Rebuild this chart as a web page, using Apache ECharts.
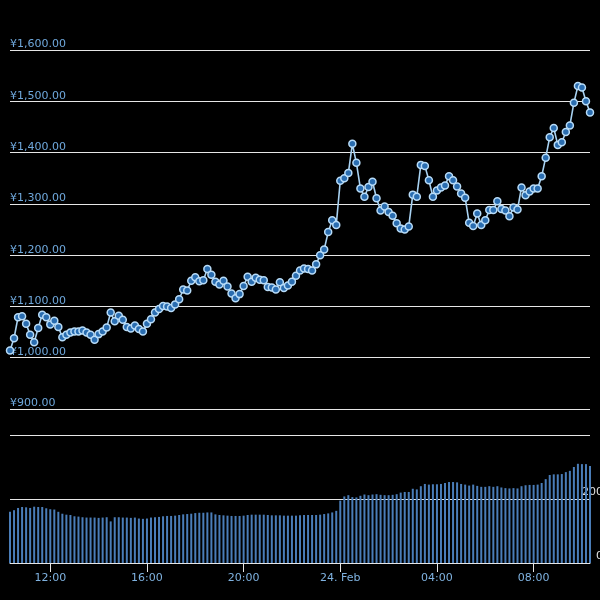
<!DOCTYPE html>
<html><head><meta charset="utf-8">
<script src="https://cdn.jsdelivr.net/npm/echarts@6/dist/echarts.min.js"></script>
<style>html,body{margin:0;padding:0;background:#000;}#c{width:600px;height:600px;}</style>
</head><body><div id="c"></div>
<script>
// 10-minute steps from 23 Feb 10:20 to 24 Feb 10:20
var times = [];
(function(){ var m = 10*60+20; for (var k = 0; k < 145; k++) { var t = (m + k*10) % 1440; var h = Math.floor(t/60), mm = t%60; times.push((h<10?'0':'')+h+':'+(mm<10?'0':'')+mm); } })();
var tickLabels = ['12:00','16:00','20:00','00:00','04:00','08:00'];
var priceTicks = [900,1000,1100,1200,1300,1400,1500,1600];
var prices = [1014,1038,1079,1081,1066,1045,1030,1058,1084,1079,
1065,1072,1060,1040,1045,1049,1051,1051,1053,1049,
1045,1035,1046,1051,1059,1088,1071,1082,1074,1060,
1057,1063,1056,1051,1066,1075,1088,1095,1101,1100,
1097,1104,1114,1133,1131,1150,1157,1149,1151,1173,
1162,1148,1143,1150,1139,1125,1116,1124,1140,1158,
1148,1156,1152,1151,1138,1137,1133,1147,1136,1141,
1148,1160,1170,1174,1173,1170,1182,1200,1211,1245,
1268,1259,1345,1350,1360,1417,1380,1330,1314,1333,
1343,1311,1287,1295,1284,1277,1262,1252,1250,1256,
1318,1314,1376,1374,1346,1314,1326,1332,1336,1354,
1346,1334,1320,1312,1263,1257,1281,1259,1268,1288,
1288,1305,1290,1287,1276,1293,1289,1332,1317,1324,
1330,1330,1354,1390,1430,1448,1415,1420,1440,1453,
1497,1530,1527,1500,1478];
var volumes = [160,165,172,175,174,172,176,175,175,171,
168,167,160,154,151,150,146,145,143,142,
142,142,141,142,143,130,143,143,142,142,
141,142,139,138,139,142,143,144,146,147,
147,148,150,152,153,154,156,157,157,158,
158,152,150,149,148,147,147,147,148,150,
151,151,151,151,150,149,149,149,148,148,
148,148,149,150,150,150,150,151,153,155,
158,163,195,208,212,206,205,210,214,212,
214,215,213,212,212,213,215,220,222,222,
232,230,240,247,245,246,246,247,250,253,
253,252,247,245,242,245,241,238,238,240,
238,240,236,234,233,234,233,240,243,244,
244,245,250,262,275,277,277,278,284,288,
300,310,309,309,303];

var chart = echarts.init(document.getElementById('c'), null, {renderer:'canvas'});
function fmtPrice(v){ var s = v.toFixed(2).split('.'); return '\u00a5' + s[0].replace(/\B(?=(\d{3})+(?!\d))/g, ',') + '.' + s[1]; }
function isTick(i){ return tickLabels.indexOf(times[i]) >= 0; }
var font = 'DejaVu Sans';
chart.setOption({
  backgroundColor: '#000000',
  animation: false,
  grid: [
    {left: 10, right: 10, top: 50, height: 359, outerBoundsMode: 'none', containLabel: false},
    {left: 10, right: 10, top: 435, height: 128, outerBoundsMode: 'none', containLabel: false}
  ],
  xAxis: [
    {type: 'category', gridIndex: 0, data: times, boundaryGap: false, show: false},
    {type: 'category', gridIndex: 1, data: times, boundaryGap: false,
     axisLine: {show: true, lineStyle: {color: '#e6e6e6', width: 1}},
     axisTick: {show: true, length: 9, interval: function(i){ return isTick(i); }, lineStyle: {color: '#e6e6e6'}},
     axisLabel: {interval: function(i){ return isTick(i); }, margin: 10, color: '#7fb2e0', fontFamily: font, fontSize: 11,
       formatter: function(v){ return v === '00:00' ? '24. Feb' : v; }},
     splitLine: {show: false}}
  ],
  yAxis: [
    {type: 'value', gridIndex: 0, min: priceTicks[0], max: priceTicks[priceTicks.length-1], interval: 100, position: 'left',
     axisLine: {show: false}, axisTick: {show: false},
     axisLabel: {inside: true, margin: 0, verticalAlign: 'bottom', padding: [0,0,0,0], color: '#6fa8dc', fontFamily: font, fontSize: 11, formatter: fmtPrice},
     splitLine: {show: true, lineStyle: {color: '#e6e6e6', width: 1}}},
    {type: 'value', gridIndex: 1, min: 0, max: 400, interval: 200, position: 'right',
     axisLine: {show: false}, axisTick: {show: false},
     axisLabel: {showMaxLabel: false, align: 'right', margin: 13, verticalAlign: 'bottom', padding: [0,0,1,0], color: '#e0e0e0', fontFamily: font, fontSize: 11},
     splitLine: {show: true, lineStyle: {color: '#e6e6e6', width: 1}}}
  ],
  series: [
    {type: 'bar', xAxisIndex: 1, yAxisIndex: 1, data: volumes, barWidth: 2,
     itemStyle: {color: '#4a7db8'}},
    {type: 'line', xAxisIndex: 0, yAxisIndex: 0, data: prices, showAllSymbol: true,
     symbol: 'circle', symbolSize: 7,
     lineStyle: {color: '#a8d2f2', width: 1.6},
     itemStyle: {color: '#2a6db0', borderColor: '#b8dcf8', borderWidth: 1.5}}
  ]
});
</script></body></html>
